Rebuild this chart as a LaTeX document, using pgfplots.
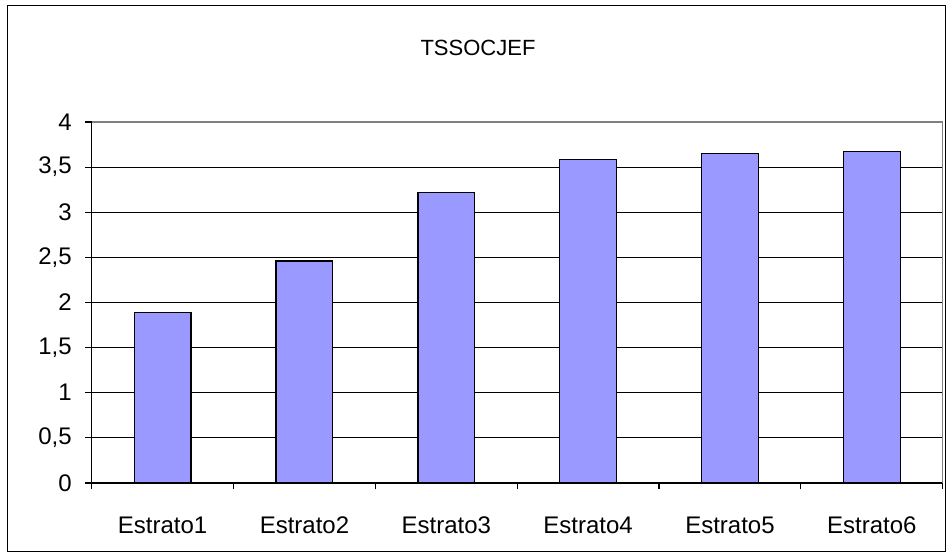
\documentclass[border=0pt]{standalone}
\usepackage{pgfplots}
\pgfplotsset{compat=1.18}
\usepackage{fontspec}
\setmainfont{Liberation Sans}
\definecolor{barfill}{RGB}{153,153,255}
\definecolor{frameg}{RGB}{128,128,128}
\pgfplotstableread{
x val
0 1.89
1 2.46
2 3.22
3 3.58
4 3.65
5 3.67
}\datatable
\begin{document}
\begin{tikzpicture}[x=1bp,y=1bp]
\useasboundingbox (0,0) rectangle (951,557);
\draw[line width=1.5bp,black] (7.5,5.5) rectangle (945.5,551.5);
\node[font=\fontsize{22bp}{24bp}\selectfont, inner sep=0pt] at (478,509.5) {TSSOCJEF};
\begin{axis}[
  at={(91.7bp,74bp)}, anchor=south west,
  scale only axis, width=851bp, height=361bp,
  xmin=-0.5, xmax=5.5, ymin=0, ymax=4,
  axis x line*=bottom, axis y line*=left,
  axis line style={line width=1.3bp, black, -},
  xtick={-0.5,0.5,1.5,2.5,3.5,4.5,5.5},
  x tick label as interval,
  xticklabels={Estrato1,Estrato2,Estrato3,Estrato4,Estrato5,Estrato6},
  ytick={0,0.5,1,1.5,2,2.5,3,3.5,4},
  tick align=outside,
  major tick length=6.5bp,
  tick style={black, line width=1.2bp},
  ymajorgrids,
  grid style={black, line width=1.1bp},
  /pgf/number format/assume math mode=true,
  /pgf/number format/use comma,
  yticklabel style={font=\fontsize{24bp}{26bp}\selectfont, anchor=east, xshift=-10bp},
  xticklabel style={font=\fontsize{24bp}{26bp}\selectfont, anchor=base, yshift=-44bp},
  ybar, bar width=0.4,
  clip=false,
]
\addplot[fill=barfill, draw=black, line width=1.2bp] table[x=x, y=val] {\datatable};
\draw[frameg, line width=1.3bp] (rel axis cs:0,1) -- (rel axis cs:1,1) -- (rel axis cs:1,0);
\end{axis}
\end{tikzpicture}
\end{document}
